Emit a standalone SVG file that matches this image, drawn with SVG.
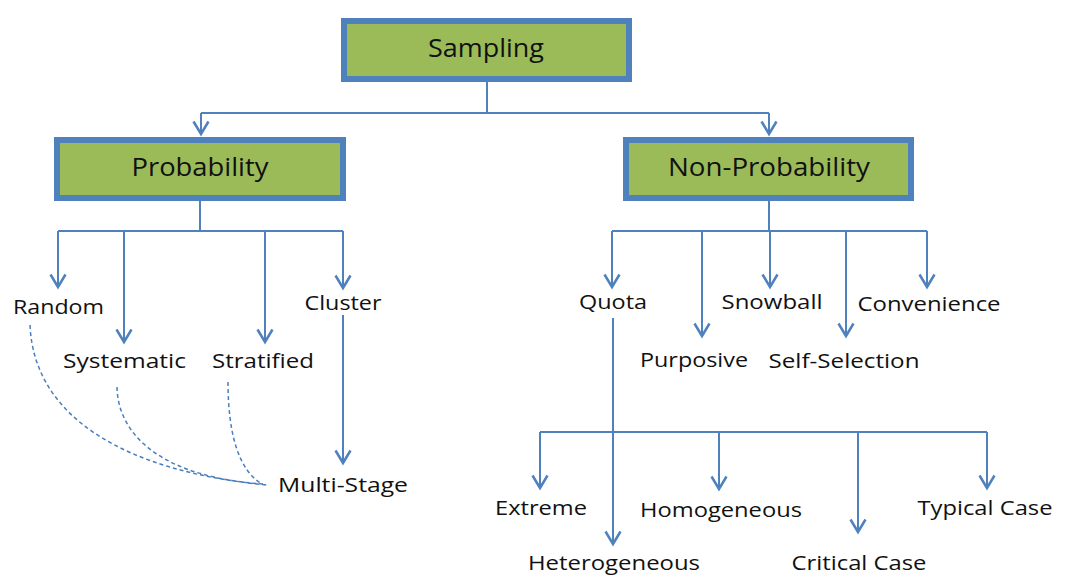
<svg xmlns="http://www.w3.org/2000/svg" width="1066" height="585" viewBox="0 0 1066 585">
<defs>
<marker id="arr" markerUnits="userSpaceOnUse" markerWidth="20" markerHeight="20" refX="0" refY="0" viewBox="-12 -8 14 16" orient="auto" overflow="visible">
<path d="M-10,-6 L0,0 L-10,6" fill="none" stroke="#4F81BD" stroke-width="2"/>
</marker>
<style>
.box{fill:#9BBB59;stroke:#4F81BD;stroke-width:6}
.t{font-family:"Open Sans","Liberation Sans",sans-serif;fill:#111;text-anchor:middle}
.big{font-size:25px}
.sm{font-size:20px}
.ln{fill:none;stroke:#4F81BD;stroke-width:2}
.ar{marker-end:url(#arr)}
.ds{fill:none;stroke:#4A7EBB;stroke-width:1.5;stroke-dasharray:4 3}
</style>
</defs>
<rect width="1066" height="585" fill="#fff"/>
<g id="connectors">
<path class="ln" d="M487,82 V113 M201,113 H769"/>
<path class="ln ar" d="M201,113 V134"/>
<path class="ln ar" d="M769,113 V134"/>
<path class="ln" d="M200,201 V231 M58,231 H343"/>
<path class="ln ar" d="M58,231 V287"/>
<path class="ln ar" d="M124,231 V342"/>
<path class="ln ar" d="M265,231 V342"/>
<path class="ln ar" d="M343,231 V288"/>
<path class="ln ar" d="M343,315 V463"/>
<path class="ln" d="M769,201 V231 M612,231 H927"/>
<path class="ln ar" d="M612,231 V287"/>
<path class="ln ar" d="M702,231 V336"/>
<path class="ln ar" d="M770,231 V287"/>
<path class="ln ar" d="M846,231 V336"/>
<path class="ln ar" d="M927,231 V287"/>
<path class="ln ar" d="M613,318 V544"/>
<path class="ln" d="M540,432 H987"/>
<path class="ln ar" d="M540,432 V488"/>
<path class="ln ar" d="M719,432 V489"/>
<path class="ln ar" d="M858,432 V532"/>
<path class="ln ar" d="M987,432 V488"/>
<path class="ds" d="M30,325 C34,420 130,472 267,485"/>
<path class="ds" d="M117,387 C118,440 170,478 263,484"/>
<path class="ds" d="M228,382 C228,432 238,470 262,484"/>
</g>
<g id="sampling"><rect class="box" x="344" y="21" width="285" height="58"/><text class="t big" x="486" y="57" textLength="116" lengthAdjust="spacingAndGlyphs">Sampling</text></g>
<g id="probability"><rect class="box" x="57" y="140" width="286" height="58"/><text class="t big" x="200" y="176" textLength="137" lengthAdjust="spacingAndGlyphs">Probability</text></g>
<g id="nonprobability"><rect class="box" x="626" y="140" width="285" height="58"/><text class="t big" x="769" y="176" textLength="202" lengthAdjust="spacingAndGlyphs">Non-Probability</text></g>
<g id="random"><text class="t sm" x="58.5" y="314" textLength="91" lengthAdjust="spacingAndGlyphs">Random</text></g>
<g id="systematic"><text class="t sm" x="124.5" y="368" textLength="123" lengthAdjust="spacingAndGlyphs">Systematic</text></g>
<g id="stratified"><text class="t sm" x="263" y="368" textLength="102" lengthAdjust="spacingAndGlyphs">Stratified</text></g>
<g id="cluster"><text class="t sm" x="343" y="310" textLength="77" lengthAdjust="spacingAndGlyphs">Cluster</text></g>
<g id="multistage"><text class="t sm" x="343" y="492" textLength="130" lengthAdjust="spacingAndGlyphs">Multi-Stage</text></g>
<g id="quota"><text class="t sm" x="613" y="309" textLength="68" lengthAdjust="spacingAndGlyphs">Quota</text></g>
<g id="purposive"><text class="t sm" x="694" y="367" textLength="108" lengthAdjust="spacingAndGlyphs">Purposive</text></g>
<g id="snowball"><text class="t sm" x="772" y="309" textLength="101" lengthAdjust="spacingAndGlyphs">Snowball</text></g>
<g id="selfselection"><text class="t sm" x="844" y="368" textLength="151" lengthAdjust="spacingAndGlyphs">Self-Selection</text></g>
<g id="convenience"><text class="t sm" x="929" y="311" textLength="143" lengthAdjust="spacingAndGlyphs">Convenience</text></g>
<g id="extreme"><text class="t sm" x="541" y="515" textLength="92" lengthAdjust="spacingAndGlyphs">Extreme</text></g>
<g id="heterogeneous"><text class="t sm" x="614" y="570" textLength="172" lengthAdjust="spacingAndGlyphs">Heterogeneous</text></g>
<g id="homogeneous"><text class="t sm" x="721" y="517" textLength="162" lengthAdjust="spacingAndGlyphs">Homogeneous</text></g>
<g id="criticalcase"><text class="t sm" x="859" y="570" textLength="135" lengthAdjust="spacingAndGlyphs">Critical Case</text></g>
<g id="typicalcase"><text class="t sm" x="985" y="515" textLength="135" lengthAdjust="spacingAndGlyphs">Typical Case</text></g>
</svg>
